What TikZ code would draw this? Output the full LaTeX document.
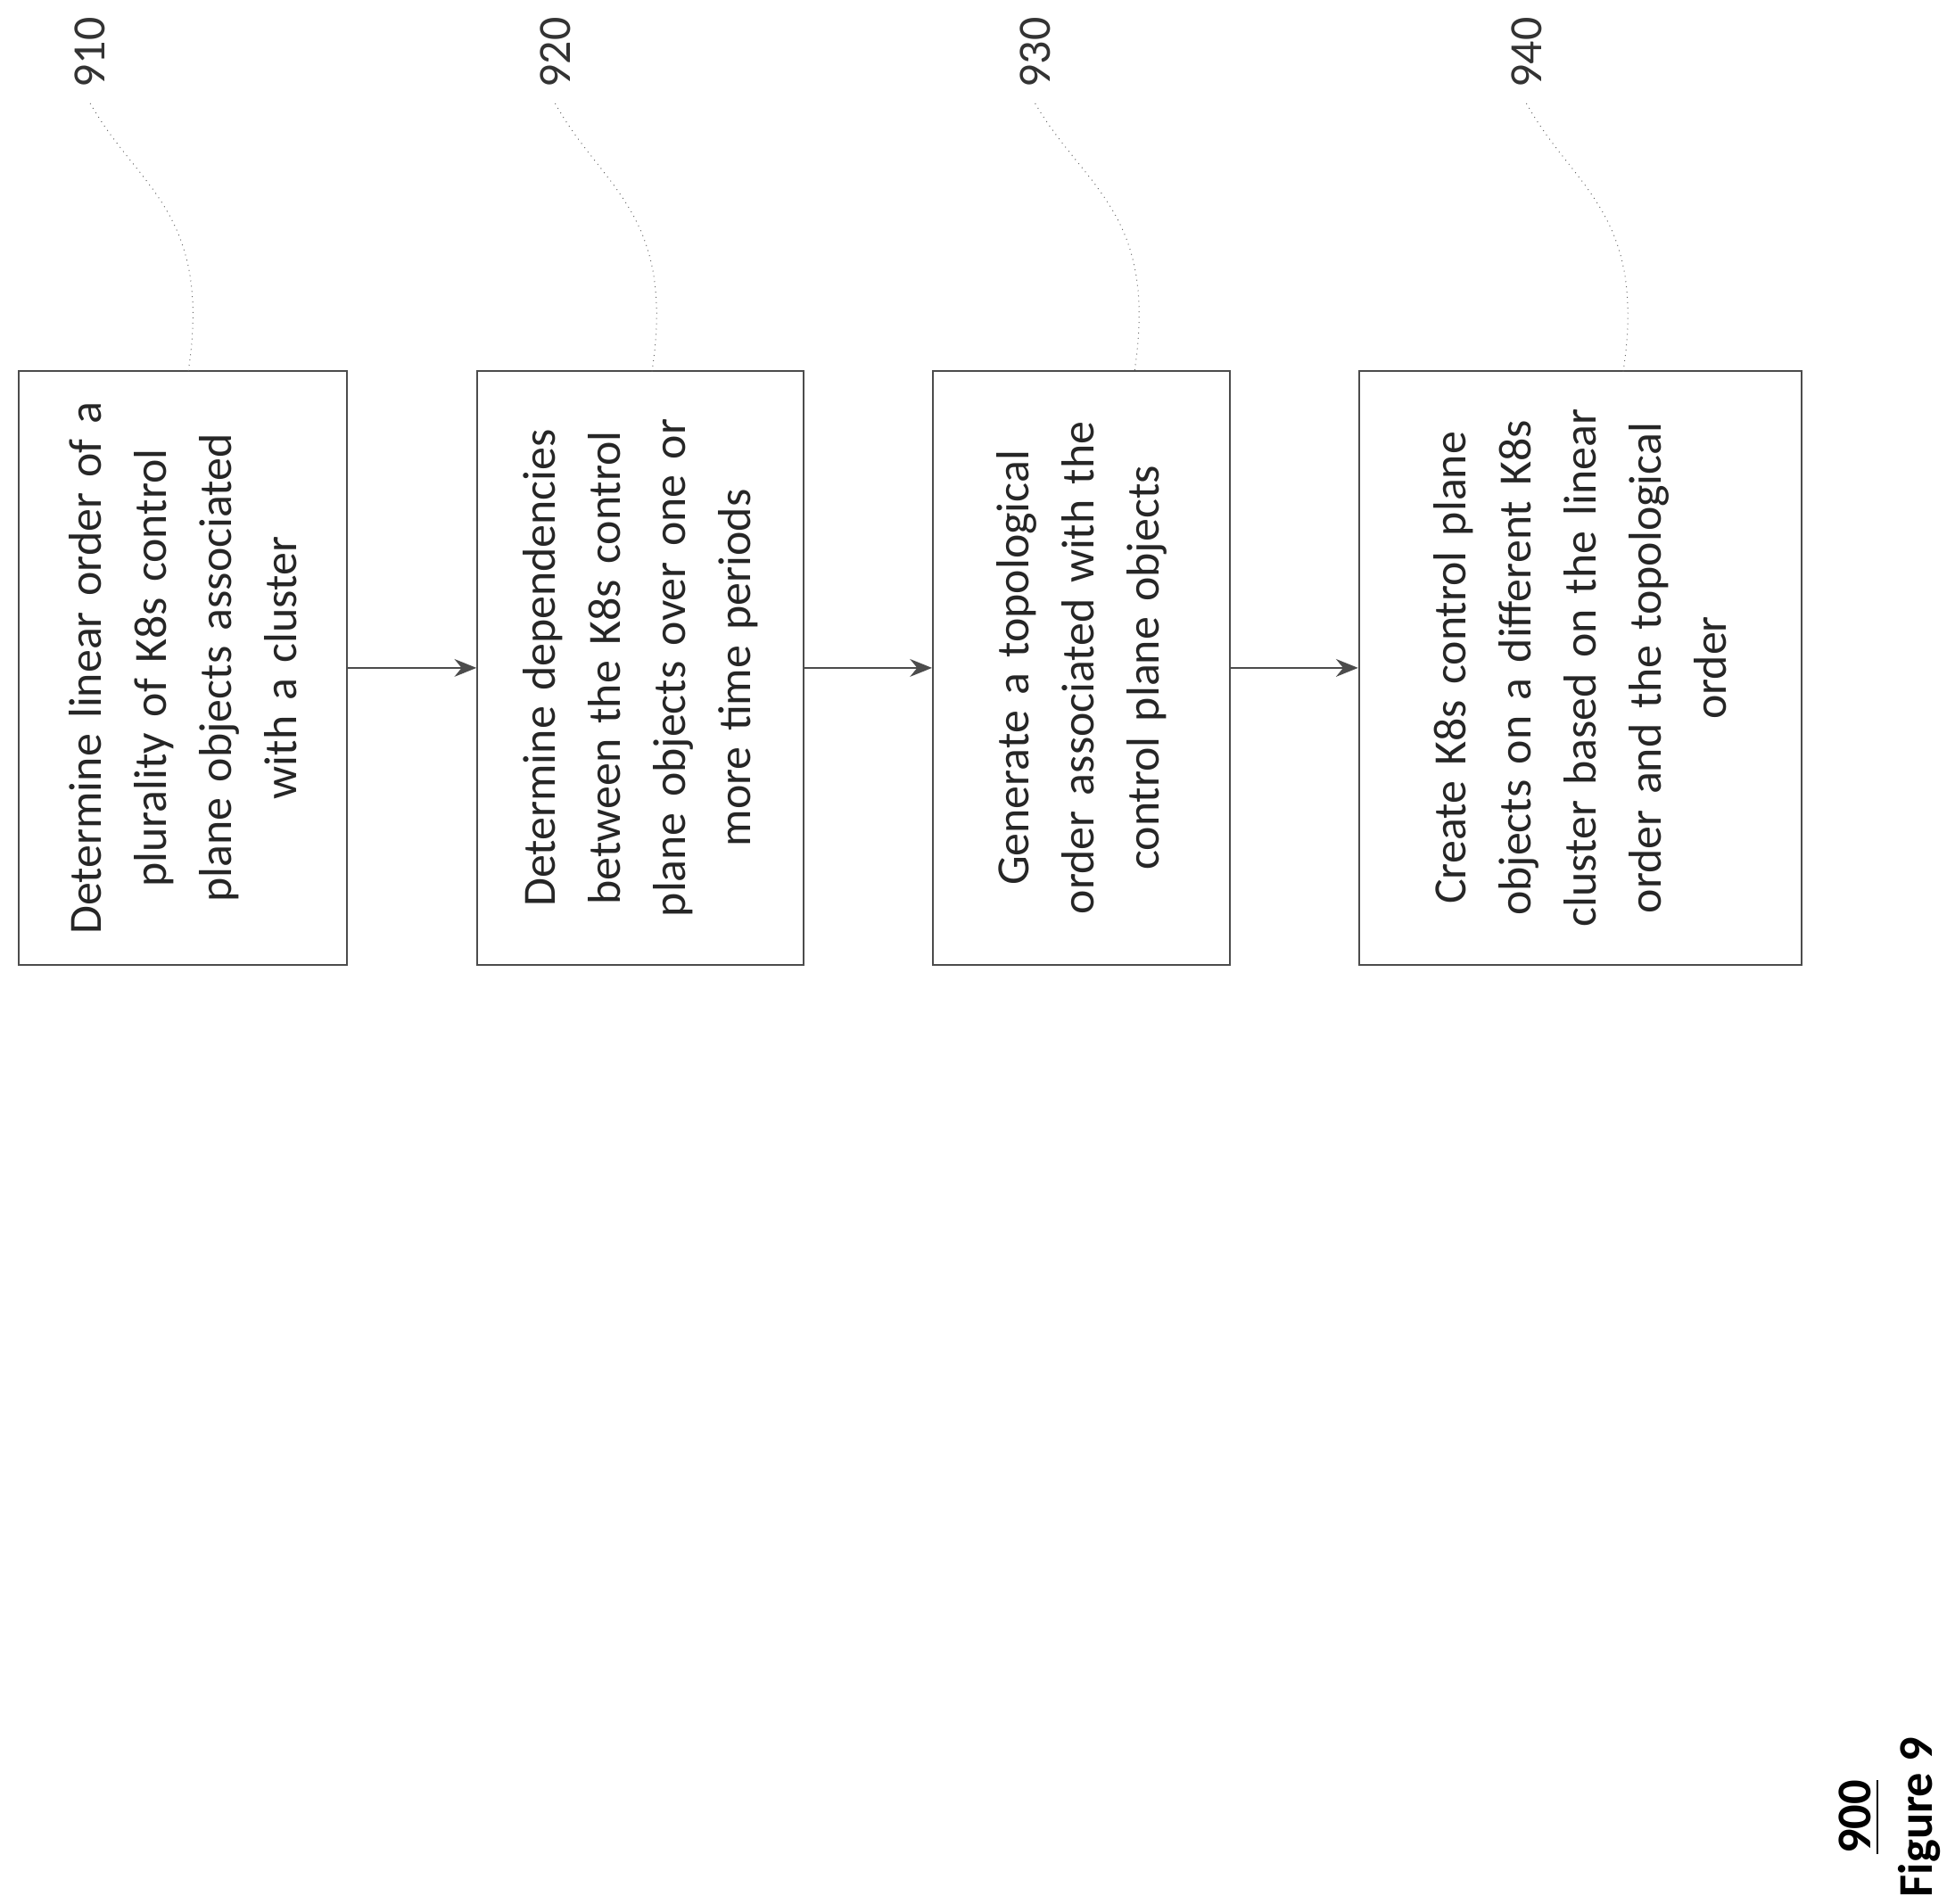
\documentclass[tikz,border=0pt]{standalone}
\usepackage{fontspec}
\setmainfont{Carlito}
\usetikzlibrary{arrows.meta}
\tikzset{stepbox/.style={draw=black!70,thin,rotate=90,align=center,text=black!85,
    font=\fontsize{10.5}{14.8}\selectfont},
  refno/.style={rotate=90,text=black!80,font=\fontsize{10.5}{12}\selectfont},
  lead/.style={black!60,very thin,densely dotted},
  flow/.style={black!70,thin,-{Stealth[length=5pt,width=4pt]}}}

\begin{document}
\begin{tikzpicture}[x=0.01cm,y=-0.01cm]
  \useasboundingbox (0,0) rectangle (1560,1519);
  \node[stepbox,minimum width=4.7cm,minimum height=2.62cm,text width=4.5cm] (s910) at (146,533)
    {Determine linear order of a\\ plurality of K8s control\\ plane objects associated\\ with a cluster};
  \node[stepbox,minimum width=4.7cm,minimum height=2.6cm,text width=4.5cm] (s920) at (511,533)
    {Determine dependencies\\ between the K8s control\\ plane objects over one or\\ more time periods};
  \node[stepbox,minimum width=4.7cm,minimum height=2.37cm,text width=4.5cm] (s930) at (863,533)
    {Generate a topological\\ order associated with the\\ control plane objects};
  \node[stepbox,minimum width=4.7cm,minimum height=3.53cm,text width=4.5cm] (s940) at (1261,533)
    {Create K8s control plane\\ objects on a different K8s\\ cluster based on the linear\\ order and the topological\\ order};

  \node[refno] (r910) at (72,42) {910};
  \node[refno] (r920) at (443,42) {920};
  \node[refno] (r930) at (826,42) {930};
  \node[refno] (r940) at (1218,42) {940};

  \draw[lead] (r910.west) .. controls (110,150) and (170,170) .. (150,298);
  \draw[lead] (r920.west) .. controls (480,150) and (540,170) .. (520,298);
  \draw[lead] (r930.west) .. controls (865,150) and (925,170) .. (905,298);
  \draw[lead] (r940.west) .. controls (1255,150) and (1315,170) .. (1295,298);

  \draw[flow] (s910) -- (s920);
  \draw[flow] (s920) -- (s930);
  \draw[flow] (s930) -- (s940);

  \node[rotate=90,align=center,font=\bfseries\fontsize{11}{14}\selectfont] (fig) at (1508,1450)
    {\underline{900}\\ Figure 9};
\end{tikzpicture}
\end{document}
